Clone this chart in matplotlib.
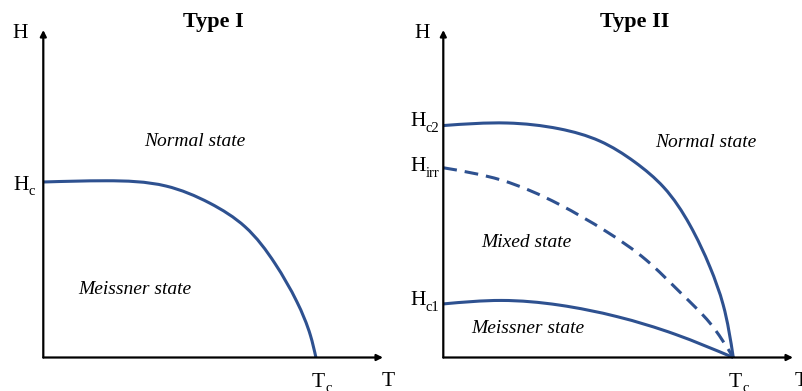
import matplotlib
matplotlib.use("Agg")
import numpy as np
import matplotlib.pyplot as plt
from matplotlib.path import Path
from matplotlib.patches import PathPatch

plt.rcParams["font.family"] = ["Liberation Serif", "DejaVu Serif"]

# Type I critical field curve (T/Tc, H/Hc)
t_type1 = [0.0, 0.23, 0.45, 0.61, 0.74, 0.85, 0.93, 0.98, 1.0]
h_c = [1.0, 1.007, 0.977, 0.880, 0.745, 0.535, 0.318, 0.125, 0.0]

# Type II boundaries (T/Tc, H/Hc2)
t_hc2 = [0.0, 0.22, 0.40, 0.54, 0.66, 0.76, 0.85, 0.92, 0.965, 1.0]
h_c2 = [1.0, 1.011, 0.986, 0.933, 0.843, 0.734, 0.572, 0.389, 0.228, 0.0]

t_irr = [0.0, 0.20, 0.40, 0.56, 0.70, 0.82, 0.92, 1.0]
h_irr = [0.818, 0.765, 0.660, 0.545, 0.420, 0.277, 0.148, 0.0]

t_hc1 = [0.0, 0.20, 0.40, 0.60, 0.80, 1.0]
h_c1 = [0.231, 0.246, 0.226, 0.176, 0.100, 0.0]

CURVE = "#2E5190"
W, H = 803, 391

fig = plt.figure(figsize=(W / 100, H / 100), dpi=100)


def spline_slopes(s, v):
    """Node derivatives of a natural cubic spline v(s)."""
    n = len(s)
    h = np.diff(s)
    A = np.zeros((n, n))
    r = np.zeros(n)
    A[0, 0] = A[-1, -1] = 1.0
    for i in range(1, n - 1):
        A[i, i - 1] = h[i - 1]
        A[i, i] = 2 * (h[i - 1] + h[i])
        A[i, i + 1] = h[i]
        r[i] = 6 * ((v[i + 1] - v[i]) / h[i] - (v[i] - v[i - 1]) / h[i - 1])
    M = np.linalg.solve(A, r)
    d = np.empty(n)
    for i in range(n - 1):
        d[i] = (v[i + 1] - v[i]) / h[i] - h[i] * (2 * M[i] + M[i + 1]) / 6
    d[-1] = (v[-1] - v[-2]) / h[-1] + h[-1] * (M[-2] + 2 * M[-1]) / 6
    return d


def smooth_curve(ax, xs, ys, **kw):
    """Draw a smooth parametric cubic spline through the points as Bezier segments."""
    xs = np.asarray(xs, float)
    ys = np.asarray(ys, float)
    disp = ax.transData.transform(np.column_stack([xs, ys]))
    s = np.concatenate([[0.0], np.cumsum(np.hypot(*np.diff(disp, axis=0).T))])
    dx = spline_slopes(s, xs)
    dy = spline_slopes(s, ys)
    verts = [(xs[0], ys[0])]
    codes = [Path.MOVETO]
    for i in range(len(xs) - 1):
        h = (s[i + 1] - s[i]) / 3
        verts += [(xs[i] + dx[i] * h, ys[i] + dy[i] * h),
                  (xs[i + 1] - dx[i + 1] * h, ys[i + 1] - dy[i + 1] * h),
                  (xs[i + 1], ys[i + 1])]
        codes += [Path.CURVE4] * 3
    patch = PathPatch(Path(verts, codes), fill=False, edgecolor=CURVE, lw=2.2,
                      capstyle="butt", clip_on=False, **kw)
    ax.add_patch(patch)


def panel(x0, x1, y_top, y_origin, xmax, ymax):
    ax = fig.add_axes([x0 / W, (H - y_origin) / H, (x1 - x0) / W, (y_origin - y_top) / H])
    ax.set_xlim(0, xmax)
    ax.set_ylim(0, ymax)
    ax.axis("off")
    arrow = dict(arrowstyle="-|>", lw=1.6, color="black", mutation_scale=9,
                 shrinkA=0, shrinkB=0)
    ax.annotate("", xy=(xmax, 0), xytext=(0, 0), arrowprops=arrow, annotation_clip=False)
    ax.annotate("", xy=(0, ymax), xytext=(0, 0), arrowprops=arrow, annotation_clip=False)
    return ax


MAIN = 15.5
SUB = 10.5


def sub_label_right(ax, x, y_base, y_sub, sub):
    """'H' with a subscript, right edge of the subscript at x."""
    s = ax.text(x, y_sub, sub, fontsize=SUB, ha="right", va="baseline", clip_on=False)
    ax.annotate("H", xy=(0, y_base), xycoords=(s, "data"), fontsize=MAIN,
                ha="right", va="baseline", annotation_clip=False)


def sub_label_left(ax, x, y_base, y_sub, main, sub):
    """Letter with a subscript, left edge of the letter at x."""
    m = ax.text(x, y_base, main, fontsize=MAIN, ha="left", va="baseline", clip_on=False)
    ax.annotate(sub, xy=(1, y_sub), xycoords=(m, "data"), xytext=(0.5, 0),
                textcoords="offset points", fontsize=SUB,
                ha="left", va="baseline", annotation_clip=False)


state = dict(fontsize=14, style="italic", ha="center", va="baseline", clip_on=False)

# ---- Type I ----
ax1 = panel(43.3, 383, 30, 357.5, 1.246, 1.866)
sy1 = 1 / 175.5  # H units per pixel
smooth_curve(ax1, t_type1, h_c)
ax1.text(0.623, 1.885, "Type I", fontsize=16, fontweight="bold", ha="center", va="baseline", clip_on=False)
ax1.text(-0.112, 1.822, "H", fontsize=MAIN, ha="left", va="baseline", clip_on=False)
sub_label_right(ax1, -0.030, (357.5 - 190) * sy1, (357.5 - 195) * sy1, "c")
sub_label_left(ax1, 0.985, (357.5 - 387) * sy1, (357.5 - 392) * sy1, "T", "c")
ax1.text(1.242, (357.5 - 386) * sy1, "T", fontsize=MAIN, ha="left", va="baseline", clip_on=False)
ax1.text(0.556, 1.207, "Normal state", **state)
ax1.text(0.336, 0.362, "Meissner state", **state)

# ---- Type II ----
ax2 = panel(443.3, 793, 30, 357.5, 1.206, 1.412)
sy2 = 1 / 232.0
smooth_curve(ax2, t_hc2, h_c2)
smooth_curve(ax2, t_irr, h_irr, linestyle=(0, (4.5, 2.6)))
smooth_curve(ax2, t_hc1, h_c1)
ax2.text(0.661, 1.426, "Type II", fontsize=16, fontweight="bold", ha="center", va="baseline", clip_on=False)
ax2.text(-0.098, 1.378, "H", fontsize=MAIN, ha="left", va="baseline", clip_on=False)
sub_label_right(ax2, -0.014, (357.5 - 126) * sy2, (357.5 - 132) * sy2, "c2")
sub_label_right(ax2, -0.014, (357.5 - 171) * sy2, (357.5 - 177) * sy2, "irr")
sub_label_right(ax2, -0.014, (357.5 - 305) * sy2, (357.5 - 311) * sy2, "c1")
sub_label_left(ax2, 0.985, (357.5 - 387) * sy2, (357.5 - 392) * sy2, "T", "c")
ax2.text(1.213, (357.5 - 386) * sy2, "T", fontsize=MAIN, ha="left", va="baseline", clip_on=False)
ax2.text(0.905, 0.909, "Normal state", **state)
ax2.text(0.287, 0.478, "Mixed state", **state)
ax2.text(0.290, 0.104, "Meissner state", **state)

fig.savefig("out.png", dpi=100)
